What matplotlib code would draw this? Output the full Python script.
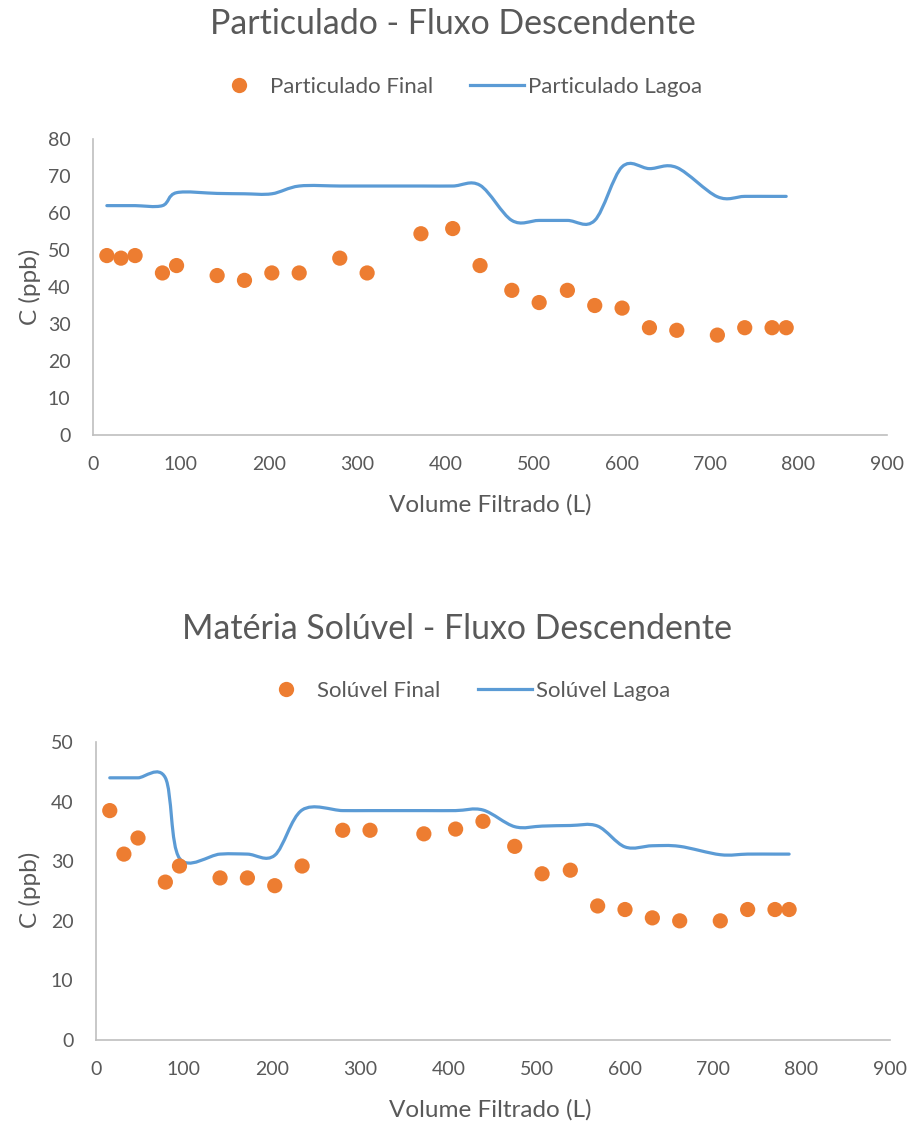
import numpy as np
import matplotlib
matplotlib.use("Agg")
import matplotlib.pyplot as plt
from matplotlib.path import Path
from matplotlib.patches import PathPatch
from matplotlib.lines import Line2D

plt.rcParams['font.family'] = ['Lato', 'DejaVu Sans']

# volume filtrado (L), same sampling for both charts
volume = [16, 32, 48, 79, 95, 141, 172, 203, 234, 280, 311, 372, 408,
          439, 475, 506, 538, 569, 600, 631, 662, 708, 739, 770, 786]

part_final = [48.5, 47.8, 48.5, 43.8, 45.8, 43.1, 41.8, 43.8, 43.8, 47.8, 43.8,
              54.4, 55.8, 45.8, 39.1, 35.8, 39.1, 35.0, 34.3, 29.0, 28.3, 27.0,
              29.0, 29.0, 29.0]
part_lagoa = [62, 62, 62, 62, 65.5, 65.3, 65.2, 65.2, 67.3, 67.3, 67.3, 67.3, 67.3,
              67.5, 58, 58, 58, 58, 72.5, 72, 72.3, 64.4, 64.5, 64.5, 64.5]

sol_final = [38.5, 31.2, 33.9, 26.5, 29.2, 27.2, 27.2, 25.9, 29.2, 35.2, 35.2,
             34.6, 35.4, 36.7, 32.5, 27.9, 28.5, 22.5, 21.9, 20.5, 20.0, 20.0,
             21.9, 21.9, 21.9]
sol_lagoa = [44, 44, 44, 44, 30.5, 31.2, 31.2, 31, 38.6, 38.5, 38.5, 38.5, 38.5,
             38.6, 35.8, 35.9, 36, 35.9, 32.4, 32.6, 32.5, 31.1, 31.2, 31.2, 31.2]

ORANGE = '#ED7D31'
BLUE = '#5B9BD5'
GREY = '#595959'


def smooth_path(x, y):
    # Excel-like smoothed line: Catmull-Rom segments as cubic Beziers
    pts = np.column_stack([x, y]).astype(float)
    n = len(pts)
    verts = [pts[0]]
    codes = [Path.MOVETO]
    for i in range(n - 1):
        p0 = pts[i - 1] if i > 0 else pts[i]
        p1 = pts[i]
        p2 = pts[i + 1]
        p3 = pts[i + 2] if i + 2 < n else pts[i + 1]
        verts += [p1 + (p2 - p0) / 6, p2 - (p3 - p1) / 6, p2]
        codes += [Path.CURVE4] * 3
    return Path(verts, codes)


def draw_chart(fig, rect, final, lagoa, ymax, title, lab_final, lab_lagoa,
               title_xy, leg_xy, ylab_xy, xlab_xy):
    ax = fig.add_axes(rect)
    ax.add_patch(PathPatch(smooth_path(volume, lagoa), facecolor='none',
                           edgecolor=BLUE, lw=2.3, capstyle='round', zorder=2))
    ax.scatter(volume, final, s=120, color=ORANGE, edgecolors='none', zorder=3)
    ax.set_xlim(0, 900)
    ax.set_ylim(0, ymax)
    ax.set_xticks(np.arange(0, 901, 100))
    ax.set_yticks(np.arange(0, ymax + 1, 10))
    for s in ['top', 'right']:
        ax.spines[s].set_visible(False)
    for s in ['left', 'bottom']:
        ax.spines[s].set_color('#BFBFBF')
        ax.spines[s].set_linewidth(1.2)
    ax.tick_params(length=0, labelsize=14, colors=GREY)
    ax.tick_params(axis='y', pad=16)
    ax.tick_params(axis='x', pad=15)

    fig.text(title_xy[0], title_xy[1], title, ha='center', va='center',
             fontsize=24.4, color=GREY)
    handles = [Line2D([], [], ls='none', marker='o', ms=11, color=ORANGE,
                      markeredgewidth=0),
               Line2D([], [], color=BLUE, lw=2.3)]
    fig.legend(handles, [lab_final, lab_lagoa], loc='center',
               bbox_to_anchor=leg_xy, ncol=2, frameon=False, fontsize=16,
               labelcolor=GREY, handlelength=2.43, columnspacing=1.67,
               handletextpad=0.18, borderpad=0, borderaxespad=0)
    fig.text(ylab_xy[0], ylab_xy[1], 'C (ppb)', rotation=90, ha='center',
             va='center', fontsize=17.5, color=GREY)
    fig.text(xlab_xy[0], xlab_xy[1], 'Volume Filtrado (L)', ha='center',
             va='center', fontsize=17.5, color=GREY)
    return ax


fig = plt.figure(figsize=(9.11, 11.24), dpi=100)

draw_chart(fig, [0.1018, 0.6130, 0.8716, 0.2633], part_final, part_lagoa, 80,
           'Particulado - Fluxo Descendente', 'Particulado Final', 'Particulado Lagoa',
           (0.497, 0.979), (0.502, 0.9225), (0.033, 0.7447), (0.538, 0.5507))
draw_chart(fig, [0.1050, 0.0747, 0.8716, 0.2651], sol_final, sol_lagoa, 50,
           'Matéria Solúvel - Fluxo Descendente', 'Solúvel Final', 'Solúvel Lagoa',
           (0.5016, 0.4405), (0.510, 0.3855), (0.033, 0.2080), (0.538, 0.0125))

fig.savefig('out.png', dpi=100, facecolor='white')
